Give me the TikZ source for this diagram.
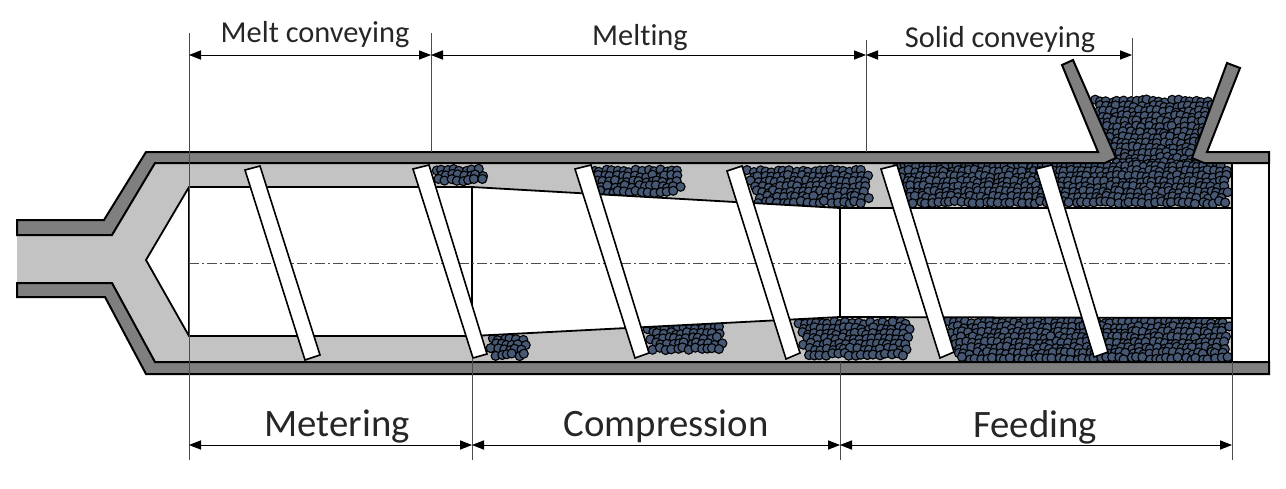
\documentclass[tikz,border=0pt]{standalone}
\usepackage{fontspec}
\setmainfont{Carlito}[Ligatures=NoCommon]
\usetikzlibrary{arrows.meta}
\definecolor{wallgrey}{RGB}{127,127,127}
\definecolor{meltgrey}{RGB}{195,195,195}
\definecolor{pellet}{RGB}{70,88,116}
\newcommand{\drawwall}{\draw[line width=1pt,fill=wallgrey]}
\newcommand{\drawflight}[8]{\draw[line width=.8pt,fill=white] (#1,#2)--(#3,#4)--(#5,#6)--(#7,#8)--cycle;}
% rows of pellets, corners given as xl top, xr top, xl bottom, xr bottom, y top, y bottom
\newcommand{\pelletblob}[6]{
    \pgfmathtruncatemacro{\nrows}{(#6-#5)/5.2}
    \foreach \i in {0,...,\nrows}{
      \pgfmathsetmacro{\rowy}{#5+5.2*\i}
      \pgfmathsetmacro{\rowf}{(\rowy-#5)/(#6-#5)}
      \pgfmathsetmacro{\rowl}{#1+(#3-#1)*\rowf}
      \pgfmathsetmacro{\rowr}{#2+(#4-#2)*\rowf}
      \pgfmathtruncatemacro{\ncols}{(\rowr-\rowl)/6}
      \foreach \j in {0,...,\ncols}{
        \pgfmathsetmacro{\px}{\rowl+6*\j+3*mod(\i,2)+1.5*rand}
        \pgfmathsetmacro{\py}{\rowy+1.5*rand}
        \fill[pellet,draw=black,line width=.55pt] (\px,\py) circle (4.5);
      }
    }
}
\tikzset{
  dimarrow/.style={{Triangle[length=6pt,width=4.6pt]}-{Triangle[length=6pt,width=4.6pt]},line width=.4pt},
  dimline/.style={line width=.4pt,black!70},
  smalllabel/.style={font=\fontsize{15.2}{17}\selectfont,text=black!85},
  biglabel/.style={font=\fontsize{19.4}{23}\selectfont,text=black!85},
}
\begin{document}
\begin{tikzpicture}[x=.5pt,y=-.5pt]
\useasboundingbox (0,0) rectangle (1286,488);
% melt channel
\fill[meltgrey] (17,235)--(112,235)--(155,163)--(1232,163)--(1232,362)--(155,362)--(112,283)--(17,283)--cycle;
% pellets
\pgfmathsetseed{4711}
\pelletblob{1094}{1212}{1118}{1200}{101}{166}
\pelletblob{898}{1226}{912}{1226}{166}{205}
\pelletblob{948}{1226}{960}{1226}{322}{359}
\pelletblob{436}{483}{440}{483}{170}{184}
\pelletblob{492}{526}{492}{526}{339}{355}
\pelletblob{594}{678}{602}{678}{171}{195}
\pelletblob{648}{720}{654}{720}{328}{352}
\pelletblob{748}{866}{760}{866}{171}{205}
\pelletblob{798}{908}{808}{908}{323}{355}
% screw
\draw[line width=.9pt,fill=white] (146,260)--(189,187)--(472,187)--(840,208)--(1232,208)--(1232,318)--(840,317)--(472,336)--(189,336)--cycle;
\draw[line width=.9pt] (189,187)--(189,336);
\draw[line width=.9pt] (472,187)--(472,336);
\draw[line width=.9pt] (840,208)--(840,317);
\draw[line width=.35pt,black!70,dash pattern=on 5pt off 1.5pt on 1pt off 1.5pt] (189,263)--(1232,263);
% flights
\drawflight{245}{170}{260}{166}{320}{355}{305}{360}
\drawflight{413}{169}{429}{165}{487}{354}{473}{358}
\drawflight{575}{169}{591}{165}{649}{353}{635}{358}
\drawflight{727}{171}{742}{166}{800}{353}{786}{359}
\drawflight{881}{169}{897}{165}{954}{352}{940}{358}
\drawflight{1036}{169}{1052}{165}{1108}{352}{1094}{357}
% barrel end
\draw[line width=.9pt,fill=white] (1232,163) rectangle (1269,362);
% barrel
\drawwall (17,220)--(104,220)--(146,152)--(1098,152)--(1062,65)--(1073,60)--(1116,158)--(1105,163)--(155,163)--(112,235)--(17,235)--cycle;
\drawwall (1227,63)--(1240,68)--(1207,152)--(1269,152)--(1269,163)--(1204,163)--(1192,158)--cycle;
\drawwall (17,283)--(112,283)--(155,362)--(1269,362)--(1269,374)--(146,374)--(105,297)--(17,297)--cycle;
% dimensions
\coordinate (mtop) at (189,33);
\coordinate (mbot) at (189,460);
\coordinate (atop) at (431,33);
\coordinate (abot) at (431,152);
\coordinate (btop) at (866,40);
\coordinate (bbot) at (866,152);
\coordinate (ctop) at (1132,38);
\coordinate (cbot) at (1132,97);
\coordinate (dtop) at (472,358);
\coordinate (dbot) at (472,460);
\coordinate (etop) at (840,362);
\coordinate (ebot) at (840,460);
\coordinate (ftop) at (1232,362);
\coordinate (fbot) at (1232,460);
\foreach \a/\b in {mtop/mbot,atop/abot,btop/bbot,ctop/cbot,dtop/dbot,etop/ebot,ftop/fbot}{
  \draw[dimline] (\a)--(\b);
}
\coordinate (t0) at (189,55);
\coordinate (t1) at (431,55);
\coordinate (t2) at (866,55);
\coordinate (t3) at (1132,55);
\coordinate (u0) at (189,445);
\coordinate (u1) at (472,445);
\coordinate (u2) at (840,445);
\coordinate (u3) at (1232,445);
\foreach \a/\b in {t0/t1,t1/t2,t2/t3,u0/u1,u1/u2,u2/u3}{
  \draw[dimarrow] (\a)--(\b);
}
\node[smalllabel] (meltconv) at (315,35) {Melt conveying};
\node[smalllabel] (melting) at (640,38) {Melting};
\node[smalllabel] (solidconv) at (1000,40) {Solid conveying};
\node[biglabel] (metering) at (337,426) {Metering};
\node[biglabel] (compression) at (666,426) {Compression};
\node[biglabel] (feeding) at (1035,427) {Feeding};
\end{tikzpicture}
\end{document}
